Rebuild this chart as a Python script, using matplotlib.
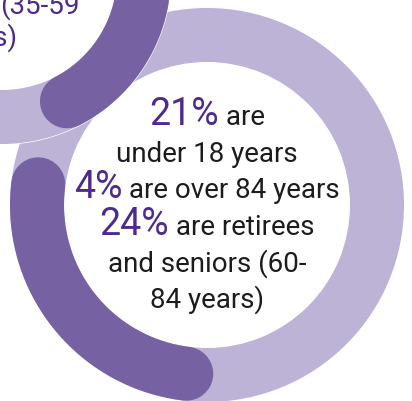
import numpy as np
import matplotlib
matplotlib.use("Agg")
from matplotlib import pyplot as plt
from matplotlib.patches import Wedge, Circle

# share figures printed inside the main ring
shares = [21, 4, 24]
share_text = ["are", "are over 84 years", "are retirees"]
extra_lines = [["under 18 years"], [], ["and seniors (60-", "84 years)"]]
# text of the neighbouring ring (cut off at the corner)
side_text = ["(35-59", "years)"]
# highlighted part of each ring, in percent of a full turn
main_highlight = 25
side_highlight = 23

LIGHT = "#bcb3d7"
DARK = "#7661a3"
PURPLE = "#4e2a8e"
INK = "#1c1c1c"
FONT = "Roboto"

W, H = 412, 401
fig = plt.figure(figsize=(W / 100, H / 100), dpi=100)
ax = fig.add_axes([0, 0, 1, 1])
ax.set_xlim(0, W)
ax.set_ylim(H, 0)
ax.axis("off")

ring_w = 54
lw_pt = ring_w * 72 / 100


def ring(cx, cy, r_out, start, pct, z):
    # white disc + light band, then the dark arc with round ends
    ax.add_patch(Circle((cx, cy), r_out, color="white", zorder=z))
    ax.add_patch(Wedge((cx, cy), r_out, 0, 360, width=ring_w, color=LIGHT,
                       zorder=z + 0.1, lw=0))
    t = np.radians(np.linspace(start, start + pct * 3.6, 200))
    rm = r_out - ring_w / 2
    ax.plot(cx + rm * np.cos(t), cy + rm * np.sin(t), color=DARK, lw=lw_pt,
            solid_capstyle="round", zorder=z + 0.2)


# y axis points down, so angles run clockwise on screen
ring(207, 205, 197, 97, main_highlight, 1)
ring(2, -25, 169, -20, side_highlight, 3)

renderer = fig.canvas.get_renderer()


def centred_line(y, parts, cx=207):
    objs = []
    for s, size, col in parts:
        objs.append(ax.text(0, y, s, fontsize=size, color=col, family=FONT,
                            va="baseline", ha="left", zorder=10))
    widths = [o.get_window_extent(renderer).width for o in objs]
    x = cx - sum(widths) / 2
    for o, w in zip(objs, widths):
        o.set_x(x)
        x += w


BIG, SMALL = 27, 20
lines = []
for v, txt, more in zip(shares, share_text, extra_lines):
    lines.append([(f"{v}%", BIG, PURPLE), (" " + txt, SMALL, INK)])
    for m in more:
        lines.append([(m, SMALL, INK)])

y0, step = 125, 36.6
for i, parts in enumerate(lines):
    centred_line(y0 + i * step, parts)

ax.text(0, 14, side_text[0], fontsize=SMALL, color=PURPLE, family=FONT,
        ha="left", va="baseline", zorder=10)
ax.text(18, 46, side_text[1], fontsize=SMALL, color=PURPLE, family=FONT,
        ha="right", va="baseline", zorder=10)

fig.savefig("out.png", dpi=100)
